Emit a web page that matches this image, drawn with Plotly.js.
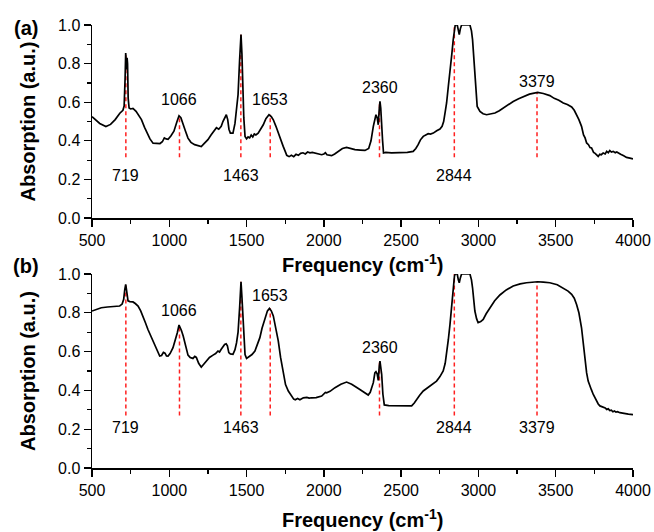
<!DOCTYPE html>
<html>
<head>
<meta charset="utf-8">
<script src="https://cdn.plot.ly/plotly-3.0.1.min.js"></script>
<style>html,body{margin:0;padding:0;background:#fff;}#chart{width:654px;height:532px;}</style>
</head>
<body>
<div id="chart"></div>
<script>
// ---- Data ----
const waveA = [500,520,550,590,620,650,680,700,708,714,718,722,724,727,730,734,740,750,765,785,800,820,840,855,875,895,920,940,955,968,980,992,1010,1030,1050,1063,1075,1090,1105,1121,1140,1164,1185,1207,1225,1250,1270,1294,1305,1320,1336,1347,1360,1369,1378,1386,1395,1412,1425,1435,1445,1455,1464,1470,1476,1482,1490,1500,1510,1520,1530,1540,1550,1560,1575,1590,1608,1625,1645,1660,1673,1690,1705,1720,1737,1750,1760,1775,1790,1805,1820,1835,1850,1865,1880,1895,1910,1925,1945,1965,1986,2000,2010,2020,2035,2050,2070,2093,2120,2147,2175,2201,2235,2266,2290,2305,2320,2330,2337,2345,2352,2358,2363,2368,2374,2380,2386,2400,2438,2470,2500,2540,2578,2595,2610,2625,2643,2660,2675,2690,2708,2730,2751,2765,2775,2785,2794,2805,2816,2828,2837,2845,2850,2863,2870,2876,2883,2891,2945,2955,2962,2970,2977,2985,2992,3010,3030,3053,3080,3107,3135,3160,3190,3225,3260,3290,3330,3383,3420,3462,3490,3520,3549,3575,3603,3620,3635,3650,3667,3680,3690,3700,3712,3722,3732,3745,3755,3765,3775,3785,3795,3807,3820,3830,3840,3850,3860,3872,3885,3895,3904,3920,3940,3958,3980,4000];
const absA = [0.525,0.512,0.49,0.474,0.485,0.51,0.543,0.558,0.58,0.72,0.855,0.80,0.77,0.83,0.80,0.62,0.57,0.565,0.568,0.553,0.535,0.51,0.47,0.44,0.41,0.388,0.385,0.386,0.395,0.415,0.41,0.408,0.425,0.45,0.50,0.53,0.52,0.49,0.45,0.414,0.392,0.38,0.375,0.37,0.385,0.406,0.43,0.457,0.468,0.46,0.475,0.50,0.525,0.535,0.51,0.46,0.44,0.44,0.49,0.56,0.64,0.82,0.95,0.85,0.68,0.52,0.423,0.41,0.42,0.415,0.43,0.42,0.435,0.43,0.44,0.46,0.483,0.515,0.535,0.525,0.509,0.475,0.44,0.40,0.371,0.345,0.325,0.318,0.325,0.318,0.33,0.325,0.335,0.338,0.332,0.342,0.338,0.34,0.336,0.333,0.328,0.332,0.338,0.328,0.324,0.323,0.332,0.345,0.36,0.366,0.36,0.354,0.352,0.35,0.36,0.40,0.475,0.52,0.535,0.52,0.483,0.56,0.604,0.57,0.509,0.40,0.337,0.34,0.337,0.338,0.338,0.34,0.345,0.36,0.38,0.405,0.423,0.432,0.437,0.435,0.44,0.452,0.461,0.475,0.50,0.55,0.596,0.68,0.751,0.85,0.924,0.99,1.0,1.0,0.97,0.95,0.98,1.0,1.0,0.97,0.924,0.82,0.717,0.63,0.578,0.552,0.54,0.535,0.54,0.544,0.556,0.57,0.585,0.604,0.618,0.63,0.642,0.651,0.645,0.634,0.62,0.61,0.596,0.588,0.575,0.558,0.535,0.51,0.475,0.43,0.415,0.389,0.38,0.365,0.363,0.34,0.335,0.325,0.319,0.33,0.328,0.337,0.332,0.345,0.338,0.35,0.342,0.345,0.338,0.342,0.337,0.33,0.322,0.314,0.31,0.306];

const waveB = [500,530,560,600,640,679,695,705,712,718,723,727,733,745,765,780,798,815,830,845,862,885,906,922,938,950,962,972,982,992,1005,1024,1040,1052,1063,1072,1078,1090,1100,1110,1121,1135,1153,1165,1175,1190,1207,1220,1239,1260,1283,1300,1315,1325,1336,1348,1358,1368,1376,1385,1395,1412,1425,1435,1445,1455,1464,1470,1476,1482,1490,1500,1510,1522,1535,1554,1570,1586,1600,1619,1635,1648,1660,1673,1690,1705,1720,1737,1752,1770,1790,1805,1815,1830,1845,1867,1890,1905,1921,1950,1986,2000,2010,2018,2040,2072,2110,2147,2180,2223,2255,2287,2300,2310,2320,2330,2337,2345,2352,2358,2363,2368,2374,2382,2391,2420,2460,2492,2530,2568,2585,2600,2620,2643,2665,2686,2710,2729,2750,2772,2785,2794,2805,2816,2828,2837,2845,2850,2863,2870,2876,2883,2891,2945,2955,2962,2970,2977,2988,2998,3015,3031,3050,3074,3105,3139,3180,3225,3270,3311,3350,3383,3420,3462,3510,3549,3580,3603,3620,3635,3650,3667,3678,3689,3700,3710,3720,3730,3743,3755,3765,3775,3786,3800,3810,3820,3830,3840,3850,3860,3870,3880,3890,3900,3915,3940,3970,4000];
const absB = [0.809,0.818,0.826,0.83,0.831,0.835,0.845,0.87,0.92,0.946,0.92,0.878,0.862,0.858,0.856,0.848,0.835,0.81,0.784,0.75,0.714,0.67,0.629,0.60,0.577,0.58,0.596,0.592,0.578,0.577,0.59,0.62,0.66,0.697,0.737,0.725,0.71,0.68,0.646,0.61,0.582,0.57,0.565,0.575,0.57,0.54,0.52,0.532,0.551,0.57,0.582,0.59,0.603,0.598,0.612,0.625,0.637,0.64,0.63,0.595,0.588,0.586,0.61,0.645,0.70,0.826,0.96,0.88,0.775,0.66,0.585,0.565,0.57,0.575,0.585,0.603,0.635,0.672,0.72,0.775,0.81,0.823,0.81,0.784,0.72,0.655,0.57,0.483,0.43,0.397,0.37,0.355,0.352,0.358,0.352,0.362,0.364,0.36,0.362,0.363,0.371,0.383,0.39,0.388,0.395,0.414,0.432,0.443,0.432,0.41,0.393,0.376,0.39,0.41,0.44,0.49,0.496,0.485,0.452,0.52,0.551,0.52,0.483,0.38,0.325,0.322,0.322,0.322,0.322,0.32,0.335,0.354,0.375,0.397,0.41,0.418,0.432,0.448,0.47,0.50,0.54,0.586,0.66,0.74,0.85,0.929,0.99,1.0,1.0,0.97,0.955,0.98,1.0,1.0,0.97,0.929,0.86,0.809,0.77,0.749,0.755,0.766,0.795,0.826,0.862,0.892,0.918,0.938,0.949,0.955,0.958,0.96,0.958,0.955,0.945,0.929,0.912,0.895,0.875,0.843,0.80,0.723,0.64,0.551,0.49,0.448,0.42,0.405,0.379,0.36,0.338,0.33,0.32,0.315,0.31,0.31,0.302,0.305,0.296,0.298,0.29,0.294,0.288,0.29,0.285,0.28,0.278,0.275];

const peakWave = [719,1066,1463,1653,2360,2844,3379];
const peakLabels = ['719','1066','1463','1653','2360','2844','3379'];
const peakTopA = [0.855,0.53,0.95,0.535,0.604,1.0,0.651];
const peakTopB = [0.946,0.737,0.96,0.823,0.551,1.0,0.96];
const dashBottomA = 0.315;
const dashBottomB = 0.27;
const labelYA = [0.222,0.613,0.222,0.613,0.674,0.222,0.708];
const labelYB = [0.208,0.812,0.208,0.887,0.62,0.208,0.208];

// ---- Build ----
function dashTrace(tops, bottom, xa, ya){
  const xs=[], ys=[];
  peakWave.forEach((w,i)=>{ xs.push(w,w,null); ys.push(bottom,tops[i],null); });
  return {x:xs,y:ys,xaxis:xa,yaxis:ya,mode:'lines',line:{color:'#ff2020',width:1.5,dash:'4px,3px'},hoverinfo:'skip',showlegend:false};
}
const F = 'Liberation Sans, Arial, sans-serif';
const traces = [
  dashTrace(peakTopA, dashBottomA, 'x', 'y'),
  dashTrace(peakTopB, dashBottomB, 'x2', 'y2'),
  {x:waveA,y:absA,xaxis:'x',yaxis:'y',mode:'lines',line:{color:'#000',width:1.7},showlegend:false},
  {x:waveB,y:absB,xaxis:'x2',yaxis:'y2',mode:'lines',line:{color:'#000',width:1.7},showlegend:false}
];

function xax(anchor){
  return {anchor:anchor,range:[500,4000],tickvals:[500,1000,1500,2000,2500,3000,3500,4000],
    ticks:'outside',ticklen:7,tickwidth:1.3,tickcolor:'#000',showline:true,linecolor:'#000',linewidth:1.5,
    showgrid:false,zeroline:false,tickfont:{family:F,size:16,color:'#000'},
    minor:{dtick:250,tick0:500,ticks:'outside',ticklen:4,tickwidth:1.2,tickcolor:'#000',showgrid:false}};
}
function yax(anchor,domain){
  return {anchor:anchor,domain:domain,range:[0,1.0],dtick:0.2,tick0:0,tickformat:'.1f',
    ticks:'outside',ticklen:7,tickwidth:1.3,tickcolor:'#000',showline:true,linecolor:'#000',linewidth:1.5,
    showgrid:false,zeroline:false,tickfont:{family:F,size:16,color:'#000'},
    minor:{dtick:0.1,ticks:'outside',ticklen:4,tickwidth:1.2,tickcolor:'#000',showgrid:false}};
}

const ann = [];
peakWave.forEach((w,i)=>{
  ann.push({x:w,y:labelYA[i],xref:'x',yref:'y',text:peakLabels[i],showarrow:false,font:{family:F,size:16,color:'#000'},xanchor:'center',yanchor:'middle'});
  ann.push({x:w,y:labelYB[i],xref:'x2',yref:'y2',text:peakLabels[i],showarrow:false,font:{family:F,size:16,color:'#000'},xanchor:'center',yanchor:'middle'});
});
const titleFont = {family:F,size:20,color:'#000'};
ann.push({xref:'paper',yref:'paper',x:0.5,y:0.5643,yshift:-45,text:'<b>Frequency (cm<sup>-1</sup>)</b>',showarrow:false,font:titleFont,xanchor:'center',yanchor:'middle'});
ann.push({xref:'paper',yref:'paper',x:0.5,y:0,yshift:-50,text:'<b>Frequency (cm<sup>-1</sup>)</b>',showarrow:false,font:titleFont,xanchor:'center',yanchor:'middle'});
ann.push({xref:'paper',yref:'paper',x:0,xshift:-64,y:(0.5643+1)/2,text:'<b>Absorption (a.u.)</b>',textangle:-90,showarrow:false,font:titleFont,xanchor:'center',yanchor:'middle'});
ann.push({xref:'paper',yref:'paper',x:0,xshift:-64,y:0.4379/2,text:'<b>Absorption (a.u.)</b>',textangle:-90,showarrow:false,font:titleFont,xanchor:'center',yanchor:'middle'});
ann.push({xref:'paper',yref:'paper',x:0,xshift:-66,y:1,yshift:-3,text:'<b>(a)</b>',showarrow:false,font:titleFont,xanchor:'center',yanchor:'middle'});
ann.push({xref:'paper',yref:'paper',x:0,xshift:-66,y:0.4379,yshift:8,text:'<b>(b)</b>',showarrow:false,font:titleFont,xanchor:'center',yanchor:'middle'});

const layout = {
  width:654,height:532,margin:{l:92,r:21,t:25,b:64},
  paper_bgcolor:'#fff',plot_bgcolor:'#fff',showlegend:false,
  font:{family:F,color:'#000'},
  xaxis:xax('y'), yaxis:yax('x',[0.5643,1]),
  xaxis2:xax('y2'), yaxis2:yax('x2',[0,0.4379]),
  annotations:ann
};
Plotly.newPlot('chart',traces,layout,{staticPlot:true,displayModeBar:false});
</script>
</body>
</html>
